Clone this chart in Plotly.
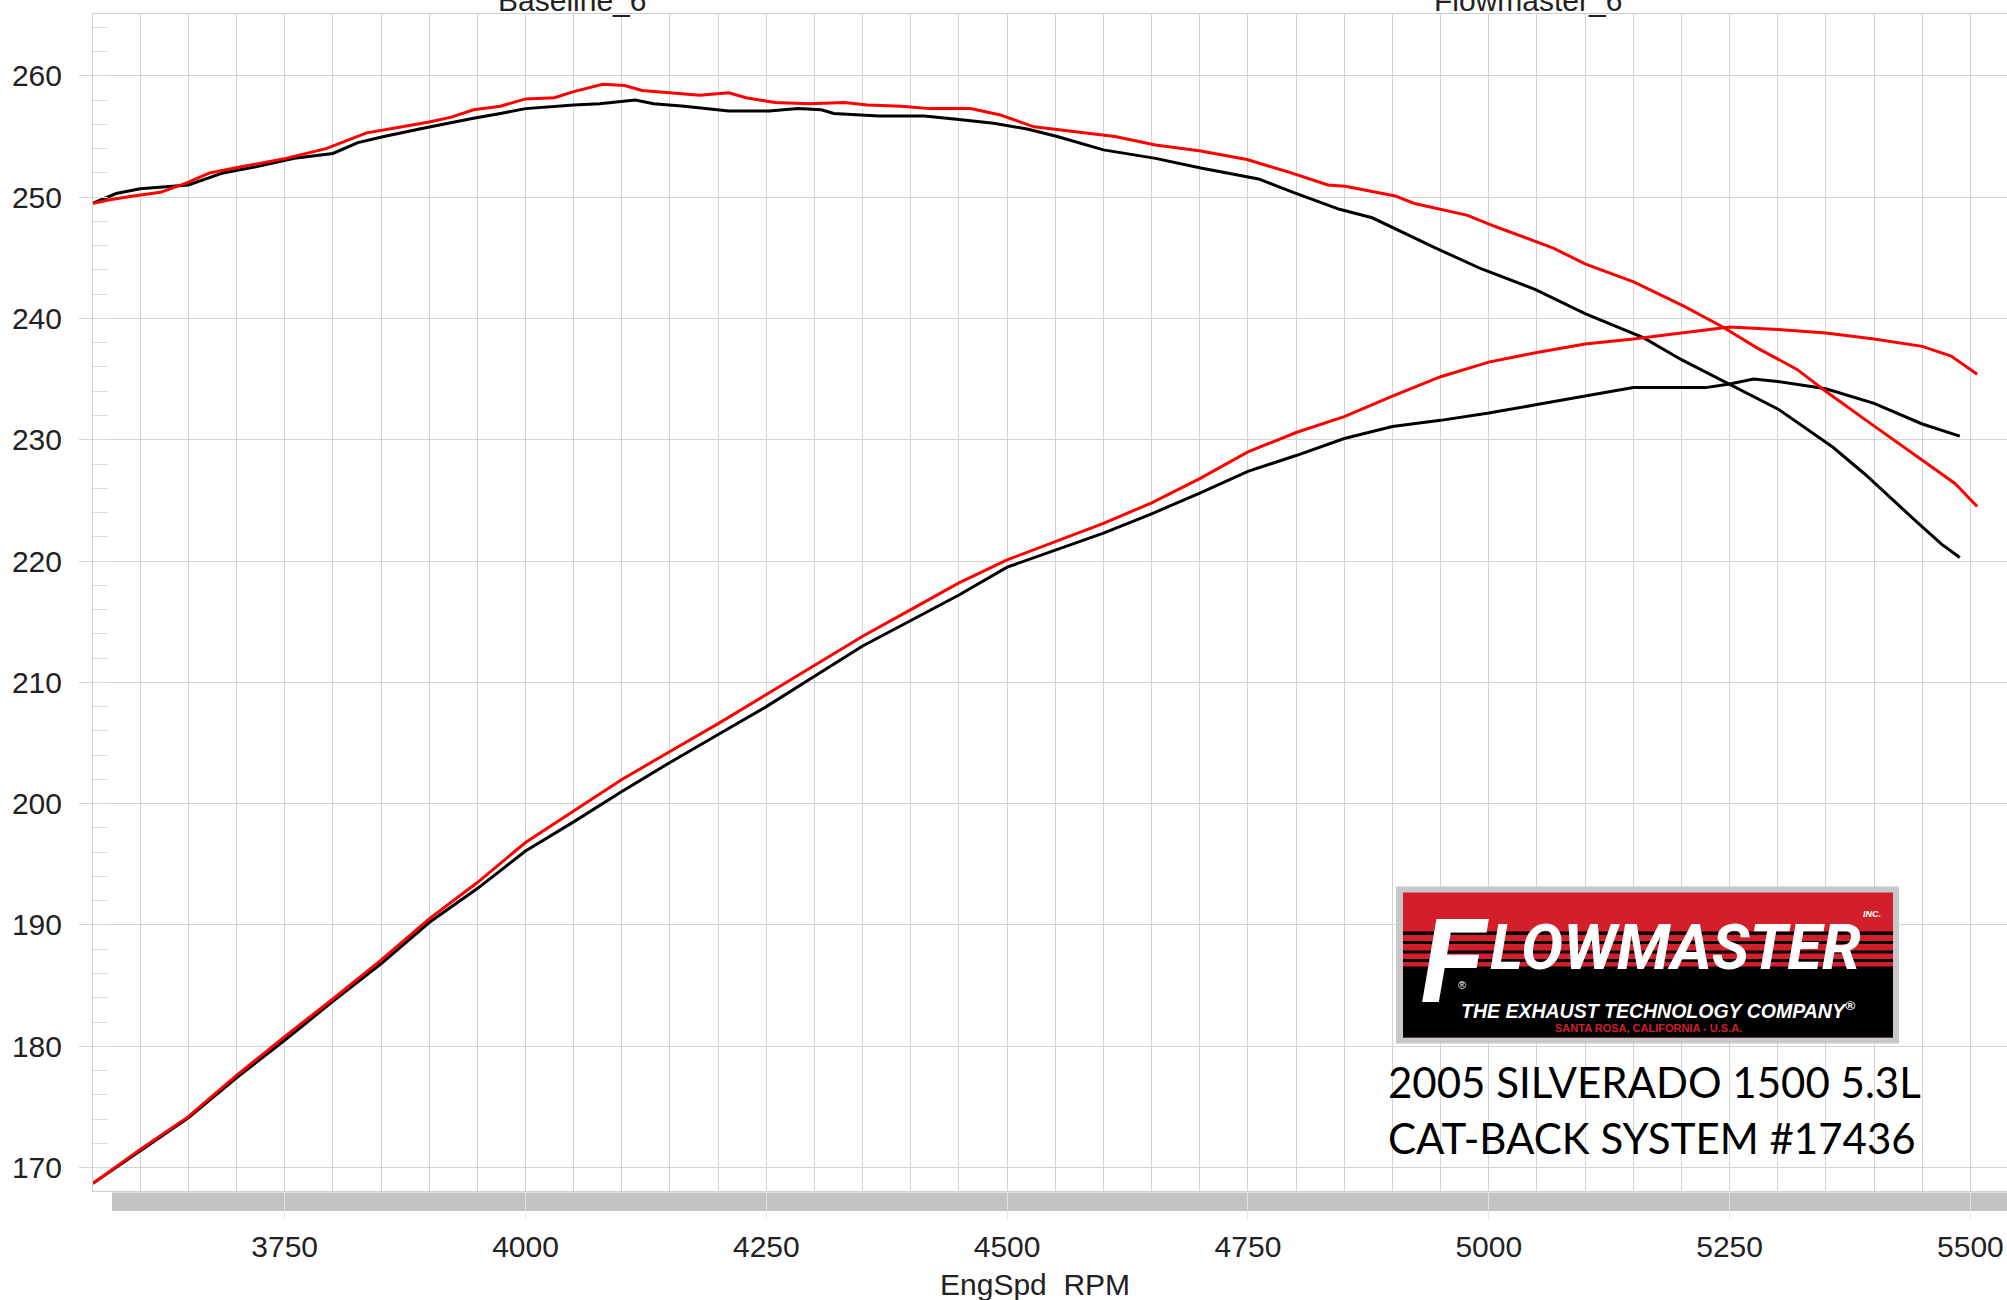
import plotly.graph_objects as go

# ---------------- data ----------------
# Upper curves (torque-like)
base_upper_rpm = [3551, 3575, 3600, 3650, 3686, 3720, 3760, 3800, 3826, 3853, 3895, 3920, 3946, 3974,
                  4000, 4050, 4077, 4114, 4133, 4165, 4211, 4253, 4283, 4307, 4320, 4367, 4414, 4450,
                  4486, 4522, 4552, 4600, 4654, 4701, 4761, 4797, 4845, 4879, 4945, 4992, 5048, 5100,
                  5161, 5200, 5247, 5273, 5301, 5357, 5390, 5442, 5470, 5489]
base_upper_val = [249.5, 250.3, 250.7, 251.0, 252.0, 252.5, 253.2, 253.6, 254.5, 255.0, 255.7, 256.1, 256.5, 256.9,
                  257.3, 257.6, 257.7, 258.0, 257.7, 257.5, 257.1, 257.1, 257.3, 257.2, 256.9, 256.7, 256.7, 256.4,
                  256.1, 255.6, 255.0, 253.9, 253.2, 252.4, 251.5, 250.4, 249.0, 248.3, 245.8, 244.1, 242.4, 240.4,
                  238.4, 236.6, 234.7, 233.6, 232.5, 229.4, 227.2, 223.4, 221.4, 220.3]

flow_upper_rpm = [3551, 3570, 3593, 3621, 3649, 3672, 3705, 3751, 3793, 3835, 3872, 3900, 3923, 3946, 3974,
                  4000, 4030, 4050, 4080, 4103, 4121, 4151, 4181, 4211, 4229, 4259, 4295, 4331, 4355, 4390,
                  4420, 4462, 4492, 4528, 4570, 4612, 4654, 4701, 4749, 4791, 4833, 4851, 4903, 4922, 4978,
                  5006, 5067, 5100, 5151, 5203, 5243, 5278, 5320, 5348, 5390, 5451, 5484, 5507]
flow_upper_val = [249.5, 249.8, 250.1, 250.4, 251.2, 252.0, 252.5, 253.2, 254.0, 255.3, 255.8, 256.2, 256.6, 257.2, 257.5,
                  258.1, 258.2, 258.7, 259.3, 259.2, 258.8, 258.6, 258.4, 258.6, 258.2, 257.8, 257.7, 257.8, 257.6, 257.5,
                  257.3, 257.3, 256.8, 255.8, 255.4, 255.0, 254.3, 253.8, 253.1, 252.1, 251.0, 250.9, 250.1, 249.5, 248.5,
                  247.6, 245.8, 244.5, 243.0, 241.0, 239.3, 237.6, 235.8, 234.1, 231.7, 228.3, 226.4, 224.5]

# Lower curves (horsepower-like)
base_lower_rpm = [3551, 3600, 3650, 3700, 3750, 3800, 3850, 3900, 3950, 4000, 4050, 4100, 4150, 4200,
                  4250, 4300, 4350, 4400, 4450, 4500, 4550, 4600, 4650, 4700, 4750, 4800, 4850, 4900,
                  4950, 5000, 5050, 5100, 5150, 5200, 5225, 5250, 5275, 5300, 5350, 5400, 5450, 5489]
base_lower_val = [168.7, 171.4, 174.1, 177.4, 180.5, 183.7, 186.8, 190.2, 193.0, 196.1, 198.5, 201.0, 203.4, 205.7,
                  208.0, 210.5, 213.0, 215.1, 217.2, 219.5, 220.9, 222.3, 223.9, 225.6, 227.4, 228.7, 230.1, 231.1,
                  231.6, 232.2, 232.9, 233.6, 234.3, 234.3, 234.3, 234.6, 235.0, 234.8, 234.2, 233.0, 231.3, 230.3]

flow_lower_rpm = [3551, 3600, 3650, 3700, 3750, 3800, 3850, 3900, 3950, 4000, 4050, 4100, 4150, 4200,
                  4250, 4300, 4350, 4400, 4450, 4500, 4550, 4600, 4650, 4700, 4750, 4800, 4850, 4900,
                  4950, 5000, 5050, 5100, 5150, 5200, 5250, 5300, 5350, 5400, 5450, 5480, 5507]
flow_lower_val = [168.7, 171.5, 174.2, 177.6, 180.8, 183.9, 187.1, 190.5, 193.5, 196.8, 199.4, 202.0, 204.3, 206.6,
                  209.0, 211.4, 213.8, 216.0, 218.2, 220.1, 221.6, 223.1, 224.8, 226.8, 229.0, 230.6, 231.9, 233.6,
                  235.2, 236.4, 237.2, 237.9, 238.3, 238.8, 239.3, 239.1, 238.8, 238.3, 237.7, 236.9, 235.4]

series_names = ["Baseline_6", "Flowmaster_6"]
x_title = "EngSpd\u00a0 RPM"
caption_lines = ["2005 SILVERADO 1500 5.3L", "CAT-BACK SYSTEM #17436"]

# ---------------- layout geometry (pixels) ----------------
W, H = 2007, 1300
L, R, T, B = 93, 2007, 14, 1191


def px(x):
    return (x - L) / (R - L)


def py(y):
    return (B - y) / (B - T)


GRID = "#d4d4d4"
TXT = "#222222"
FONT = "Liberation Sans, Arial, sans-serif"

fig = go.Figure()
fig.add_trace(go.Scatter(x=base_upper_rpm, y=base_upper_val, mode="lines",
                         line=dict(color="#000000", width=3), name=series_names[0], showlegend=False))
fig.add_trace(go.Scatter(x=base_lower_rpm, y=base_lower_val, mode="lines",
                         line=dict(color="#000000", width=3), name=series_names[0], showlegend=False))
fig.add_trace(go.Scatter(x=flow_upper_rpm, y=flow_upper_val, mode="lines",
                         line=dict(color="#ff0000", width=3), name=series_names[1], showlegend=False))
fig.add_trace(go.Scatter(x=flow_lower_rpm, y=flow_lower_val, mode="lines",
                         line=dict(color="#ff0000", width=3), name=series_names[1], showlegend=False))

shapes = []
# grey scroll bar under the plot
shapes.append(dict(type="rect", xref="paper", yref="paper", x0=px(112), x1=px(2007),
                   y0=py(1192.5), y1=py(1211), fillcolor="#c3c3c3", line=dict(width=0), layer="below"))

# Flowmaster logo
RED = "#d21f2b"
shapes.append(dict(type="rect", xref="paper", yref="paper", x0=px(1396), x1=px(1899),
                   y0=py(1043.5), y1=py(886.5), fillcolor="#c8c8c8", line=dict(width=0), layer="above"))
shapes.append(dict(type="rect", xref="paper", yref="paper", x0=px(1403), x1=px(1893),
                   y0=py(1037.5), y1=py(892.5), fillcolor=RED, line=dict(width=0), layer="above"))
for (a, b) in [(931.5, 935), (941, 944), (950.5, 953.5), (959, 962), (966.5, 1037.5)]:
    shapes.append(dict(type="rect", xref="paper", yref="paper", x0=px(1403), x1=px(1893),
                       y0=py(b), y1=py(a), fillcolor="#000000", line=dict(width=0), layer="above"))

annotations = []
# clipped series labels at the very top
for name, cx in zip(series_names, [572, 1528]):
    annotations.append(dict(text=name, xref="paper", yref="paper", x=px(cx), y=1.0,
                            xanchor="center", yanchor="bottom", yshift=-5, showarrow=False,
                            font=dict(family=FONT, size=30, color=TXT)))
# x axis title
annotations.append(dict(text=x_title, xref="paper", yref="paper", x=px(1035), y=py(1284),
                        xanchor="center", yanchor="middle", showarrow=False,
                        font=dict(family=FONT, size=30, color=TXT)))

LOGO_FONT = "Roboto, Liberation Sans, sans-serif"
annotations.append(dict(text="F", xref="paper", yref="paper", x=px(1455), y=py(962),
                        xanchor="center", yanchor="middle", showarrow=False,
                        font=dict(family=LOGO_FONT, size=116, color="#ffffff", weight="bold", style="italic")))
annotations.append(dict(text="LOWMASTER", xref="paper", yref="paper", x=px(1675), y=py(948),
                        xanchor="center", yanchor="middle", showarrow=False,
                        font=dict(family=LOGO_FONT, size=63, color="#ffffff", weight="bold", style="italic")))
annotations.append(dict(text="INC.", xref="paper", yref="paper", x=px(1872), y=py(914),
                        xanchor="center", yanchor="middle", showarrow=False,
                        font=dict(family=FONT, size=9, color="#ffffff", weight="bold", style="italic")))
annotations.append(dict(text="®", xref="paper", yref="paper", x=px(1462), y=py(985),
                        xanchor="center", yanchor="middle", showarrow=False,
                        font=dict(family=FONT, size=11, color="#ffffff")))
annotations.append(dict(text="THE EXHAUST TECHNOLOGY COMPANY<sup>®</sup>", xref="paper", yref="paper",
                        x=px(1658), y=py(1009.5), xanchor="center", yanchor="middle", showarrow=False,
                        font=dict(family=FONT, size=19.5, color="#ffffff", weight="bold", style="italic")))
annotations.append(dict(text="SANTA ROSA, CALIFORNIA - U.S.A.", xref="paper", yref="paper",
                        x=px(1648), y=py(1028), xanchor="center", yanchor="middle", showarrow=False,
                        font=dict(family=FONT, size=11, color=RED, weight="bold")))
# caption lines
for line, cy in zip(caption_lines, [1082, 1138]):
    annotations.append(dict(text=line, xref="paper", yref="paper", x=px(1386), y=py(cy),
                            xanchor="left", yanchor="middle", showarrow=False,
                            font=dict(family="Lato, Open Sans, sans-serif", size=42, color="#000000")))

fig.update_layout(
    width=W, height=H,
    margin=dict(l=L, r=W - R, t=T, b=H - B, pad=0),
    paper_bgcolor="#ffffff", plot_bgcolor="#ffffff",
    showlegend=False,
    shapes=shapes, annotations=annotations,
    font=dict(family=FONT, size=30, color=TXT),
)
fig.update_xaxes(range=[3551, 5538], tick0=0, dtick=250, showgrid=True, gridcolor=GRID, gridwidth=1,
                 ticks="outside", ticklen=27, tickcolor="#e2e2e2", tickwidth=1,
                 ticklabelstandoff=2,
                 minor=dict(dtick=50, showgrid=True, gridcolor=GRID, gridwidth=1, ticks=""),
                 showline=True, linecolor="#cfcfcf", linewidth=1, mirror=True, zeroline=False,
                 tickfont=dict(family=FONT, size=30, color=TXT))
fig.update_yaxes(range=[168.07, 265.1], tick0=0, dtick=10, showgrid=True, gridcolor=GRID, gridwidth=1,
                 ticks="outside", ticklen=13, tickcolor=GRID, tickwidth=1,
                 ticklabelstandoff=11,
                 minor=dict(dtick=2, ticks="inside", ticklen=15, tickcolor="#dcdcdc", showgrid=False),
                 showline=True, linecolor="#cfcfcf", linewidth=1, zeroline=False,
                 tickfont=dict(family=FONT, size=30, color=TXT))

fig.write_html("out.html", config={"displayModeBar": False},
               post_script="document.body.style.margin='0';document.body.style.overflow='hidden';")
